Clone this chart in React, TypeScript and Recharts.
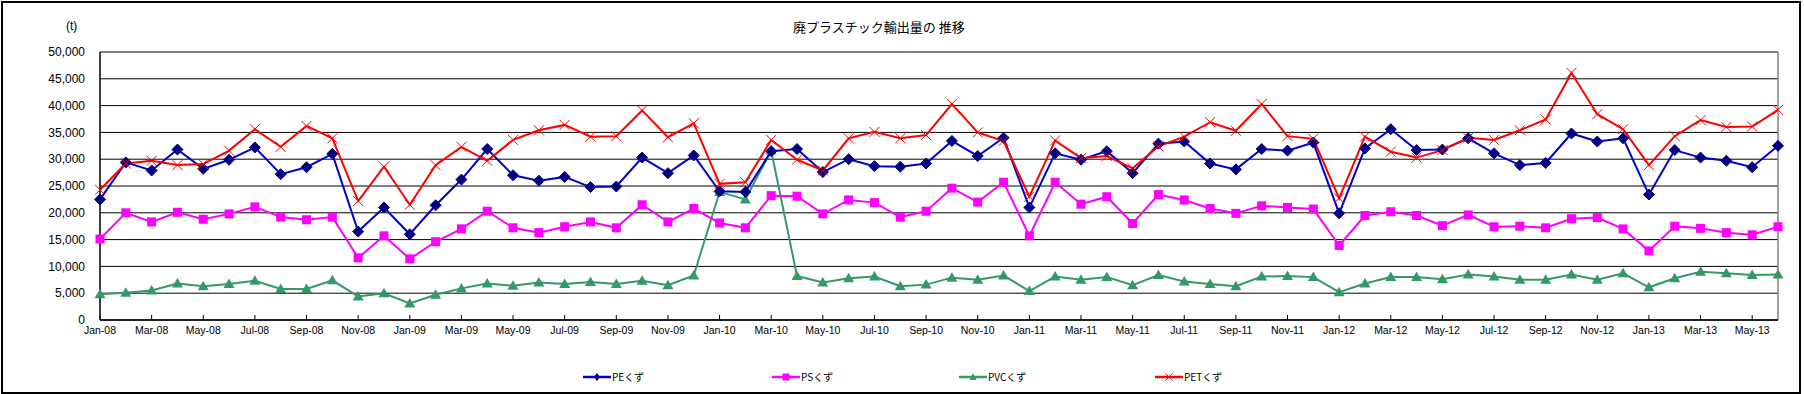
import React from 'react';
import { LineChart, Line, XAxis, YAxis, CartesianGrid, ReferenceLine } from 'recharts';

const months = [
  'Jan-08','Feb-08','Mar-08','Apr-08','May-08','Jun-08','Jul-08','Aug-08','Sep-08','Oct-08','Nov-08','Dec-08',
  'Jan-09','Feb-09','Mar-09','Apr-09','May-09','Jun-09','Jul-09','Aug-09','Sep-09','Oct-09','Nov-09','Dec-09',
  'Jan-10','Feb-10','Mar-10','Apr-10','May-10','Jun-10','Jul-10','Aug-10','Sep-10','Oct-10','Nov-10','Dec-10',
  'Jan-11','Feb-11','Mar-11','Apr-11','May-11','Jun-11','Jul-11','Aug-11','Sep-11','Oct-11','Nov-11','Dec-11',
  'Jan-12','Feb-12','Mar-12','Apr-12','May-12','Jun-12','Jul-12','Aug-12','Sep-12','Oct-12','Nov-12','Dec-12',
  'Jan-13','Feb-13','Mar-13','Apr-13','May-13','Jun-13',
];

const peValues = [
  22500, 29400, 27900, 31800, 28200, 29900, 32200, 27200, 28500, 31000, 16500, 21000,
  16000, 21400, 26200, 31900, 27000, 26000, 26700, 24800, 24900, 30300, 27400, 30700,
  24000, 23900, 31500, 31900, 27600, 30000, 28700, 28600, 29200, 33400, 30600, 34000,
  21000, 31100, 29900, 31500, 27400, 32900, 33300, 29200, 28100, 31900, 31600, 33100,
  19900, 32000, 35600, 31700, 31800, 33900, 31100, 28900, 29300, 34800, 33300, 33900,
  23400, 31700, 30300, 29700, 28500, 32500,
];

const psValues = [
  15100, 20000, 18300, 20100, 18800, 19800, 21100, 19200, 18700, 19200, 11600, 15700,
  11400, 14600, 17000, 20300, 17200, 16300, 17400, 18300, 17200, 21500, 18300, 20800,
  18100, 17200, 23200, 23100, 19800, 22400, 21900, 19200, 20300, 24600, 22000, 25700,
  15700, 25700, 21600, 23000, 18000, 23400, 22400, 20800, 19900, 21300, 21000, 20700,
  13900, 19500, 20200, 19500, 17600, 19600, 17400, 17500, 17200, 18900, 19100, 17000,
  12900, 17500, 17100, 16300, 15900, 17400,
];

const pvcValues = [
  4800, 5100, 5500, 6800, 6300, 6700, 7300, 5800, 5800, 7400, 4400, 5000,
  3100, 4700, 5900, 6800, 6400, 7000, 6700, 7100, 6700, 7300, 6500, 8300,
  23900, 22500, 31600, 8200, 7000, 7800, 8100, 6300, 6600, 7900, 7500, 8300,
  5400, 8100, 7500, 8000, 6500, 8400, 7200, 6700, 6300, 8100, 8200, 8000,
  5200, 6800, 8000, 8000, 7600, 8500, 8100, 7500, 7500, 8500, 7500, 8700,
  6100, 7800, 9000, 8700, 8400, 8500,
];

const petValues = [
  24300, 29200, 29700, 28900, 29100, 31600, 35600, 32300, 36200, 33900, 22200, 28600,
  21500, 28900, 32300, 29700, 33600, 35400, 36400, 34200, 34300, 39100, 34100, 36700,
  25400, 25700, 33600, 29900, 27900, 33900, 35100, 33900, 34500, 40300, 35000, 33400,
  23000, 33500, 30200, 30600, 28300, 32400, 34200, 36900, 35300, 40300, 34300, 33800,
  22700, 34200, 31400, 30300, 31700, 34000, 33600, 35400, 37400, 46100, 38400, 35600,
  28900, 34300, 37300, 36000, 36100, 39200,
];

const yTicks = [0, 5000, 10000, 15000, 20000, 25000, 30000, 35000, 40000, 45000, 50000];

const seriesNames = ['PEくず', 'PSくず', 'PVCくず', 'PETくず'];
const seriesKeys = ['pe', 'ps', 'pvc', 'pet'];
const lineColors = ['#0000cc', '#ff00ff', '#339966', '#ff0000'];

const data = months.map((m, i) => ({
  month: m,
  pe: peValues[i],
  ps: psValues[i],
  pvc: pvcValues[i],
  pet: petValues[i],
}));

const NUM_FONT = '"Liberation Sans", Arial, sans-serif';
const JP_FONT = '"Noto Sans CJK JP", "Liberation Sans", sans-serif';

const Diamond = (props: any) => {
  const { cx, cy, index } = props;
  if (cx == null || cy == null) return null;
  return (
    <polygon
      key={`d-${index}`}
      points={`${cx},${cy - 5.5} ${cx + 5.5},${cy} ${cx},${cy + 5.5} ${cx - 5.5},${cy}`}
      fill="#000080"
      stroke="#000080"
    />
  );
};

const Square = (props: any) => {
  const { cx, cy, index } = props;
  if (cx == null || cy == null) return null;
  return <rect key={`s-${index}`} x={cx - 4.5} y={cy - 4.5} width={9} height={9} fill="#ff00ff" />;
};

const Tri = (props: any) => {
  const { cx, cy, index } = props;
  if (cx == null || cy == null) return null;
  return (
    <polygon
      key={`t-${index}`}
      points={`${cx},${cy - 5.5} ${cx + 5.5},${cy + 4} ${cx - 5.5},${cy + 4}`}
      fill="#339966"
    />
  );
};

const Cross = (props: any) => {
  const { cx, cy, index } = props;
  if (cx == null || cy == null) return null;
  return (
    <g key={`x-${index}`}>
      <line x1={cx - 5} y1={cy - 5} x2={cx + 5} y2={cy + 5} stroke="#ff0000" strokeWidth={1} />
      <line x1={cx - 5} y1={cy + 5} x2={cx + 5} y2={cy - 5} stroke="#ff0000" strokeWidth={1} />
    </g>
  );
};

const XTick = (props: any) => {
  const { x, y, payload } = props;
  return (
    <g>
      <line x1={x} y1={y} x2={x} y2={y - 5} stroke="#000" strokeWidth={1} />
      <text x={x} y={y + 14} textAnchor="middle" fontSize={10.5} fontFamily={NUM_FONT} fill="#000">
        {payload.value}
      </text>
    </g>
  );
};

const LegendIcon = ({ idx }: { idx: number }) => {
  const c = lineColors[idx];
  let marker: React.ReactNode = null;
  if (idx === 0) marker = <polygon points="14,2 17,6 14,10 11,6" fill="#000080" />;
  if (idx === 1) marker = <rect x={10.5} y={2.5} width={7} height={7} fill="#ff00ff" />;
  if (idx === 2) marker = <polygon points="14,2 17.5,9 10.5,9" fill="#339966" />;
  if (idx === 3)
    marker = (
      <g>
        <line x1={10.5} y1={2.5} x2={17.5} y2={9.5} stroke="#ff0000" />
        <line x1={10.5} y1={9.5} x2={17.5} y2={2.5} stroke="#ff0000" />
      </g>
    );
  return (
    <svg width={28} height={12} style={{ display: 'block' }}>
      <line x1={0} y1={6} x2={28} y2={6} stroke={c} strokeWidth={2.5} />
      {marker}
    </svg>
  );
};

const legendLeft = [583, 772, 959, 1155];

export default function App() {
  return (
    <div style={{ position: 'absolute', left: 0, top: 0, width: 1804, height: 394, background: '#fff' }}>
      <div
        style={{
          position: 'absolute',
          left: 1,
          top: 1,
          width: 1800,
          height: 393,
          boxSizing: 'border-box',
          border: '2px solid #000',
        }}
      />
      <div
        style={{
          position: 'absolute',
          left: 793,
          top: 18,
          fontSize: 13,
          fontFamily: JP_FONT,
          color: '#000',
          whiteSpace: 'nowrap',
          lineHeight: '18px',
        }}
      >
        廃プラスチック輸出量の 推移
      </div>
      <div
        style={{
          position: 'absolute',
          left: 66,
          top: 18,
          fontSize: 12,
          fontFamily: NUM_FONT,
          color: '#000',
          lineHeight: '16px',
        }}
      >
        (t)
      </div>
      <div style={{ position: 'absolute', left: 0, top: 0 }}>
        <LineChart
          width={1804}
          height={394}
          data={data}
          margin={{ top: 52, right: 26, left: 0, bottom: 44 }}
        >
          <CartesianGrid vertical={false} stroke="#000" strokeOpacity={1} />
          <ReferenceLine y={50000} stroke="#808080" strokeWidth={1.5} />
          <ReferenceLine x="Jun-13" stroke="#808080" strokeWidth={1.5} />
          <XAxis
            dataKey="month"
            interval={1}
            tickLine={false}
            tickSize={0}
            tickMargin={0}
            height={30}
            axisLine={{ stroke: '#000', strokeWidth: 1.5 }}
            tick={<XTick />}
          />
          <YAxis
            width={100}
            domain={[0, 50000]}
            ticks={yTicks}
            interval={0}
            tickLine={false}
            tickSize={0}
            tickMargin={15}
            axisLine={{ stroke: '#000', strokeWidth: 1.5 }}
            tickFormatter={(v: number) => v.toLocaleString('en-US')}
            tick={{ fontSize: 12, fill: '#000', fontFamily: NUM_FONT }}
          />
          <Line dataKey="pvc" name={seriesNames[2]} stroke={lineColors[2]} strokeWidth={2} dot={<Tri />} activeDot={false} isAnimationActive={false} />
          <Line dataKey="ps" name={seriesNames[1]} stroke={lineColors[1]} strokeWidth={2} dot={<Square />} activeDot={false} isAnimationActive={false} />
          <Line dataKey="pe" name={seriesNames[0]} stroke={lineColors[0]} strokeWidth={2} dot={<Diamond />} activeDot={false} isAnimationActive={false} />
          <Line dataKey="pet" name={seriesNames[3]} stroke={lineColors[3]} strokeWidth={2} dot={<Cross />} activeDot={false} isAnimationActive={false} />
        </LineChart>
      </div>
      {seriesNames.map((n, i) => (
        <div
          key={seriesKeys[i]}
          style={{
            position: 'absolute',
            left: legendLeft[i],
            top: 370,
            display: 'flex',
            alignItems: 'center',
            fontSize: 10,
            fontFamily: JP_FONT,
            color: '#000',
            lineHeight: '14px',
            whiteSpace: 'nowrap',
          }}
        >
          <LegendIcon idx={i} />
          <span style={{ marginLeft: 1 }}>{n}</span>
        </div>
      ))}
    </div>
  );
}
